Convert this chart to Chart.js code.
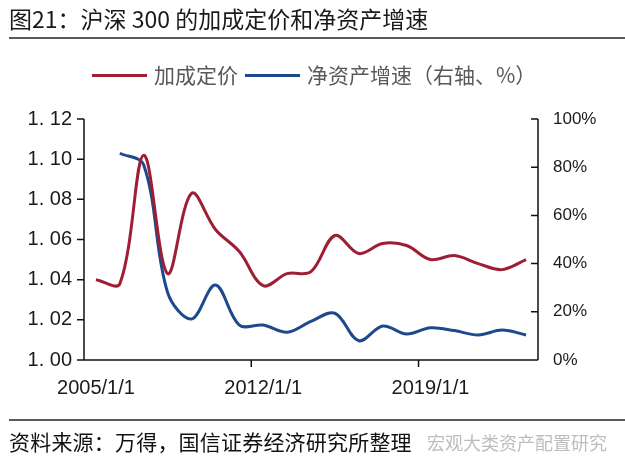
<!DOCTYPE html>
<html>
<head>
<meta charset="utf-8">
<script src="https://cdn.jsdelivr.net/npm/chart.js@4.4.1/dist/chart.umd.min.js"></script>
<style>
  body { margin: 0; background: #fff; font-family: "Noto Sans CJK SC", sans-serif; }
  #wrap { position: relative; width: 625px; height: 465px; overflow: hidden; }
  #c { position: absolute; left: 0; top: 0; }
  .abs { position: absolute; white-space: nowrap; }
  .title { left: 9px; top: 7px; font-size: 23px; line-height: 23px; color: #1a1a1a; }
  .rule { left: 9px; width: 616px; height: 2px; background: #5a5a5a; }
  .leg-line { height: 3px; }
  .leg-text { font-size: 21px; line-height: 21px; color: #595959; top: 64px; }
  .foot { left: 9px; top: 431px; font-size: 21px; line-height: 21px; color: #111; letter-spacing: 0.2px; }
  .mark { left: 427px; top: 433px; font-size: 18px; line-height: 18px; color: #bdbdbd; }
</style>
</head>
<body>
<div id="wrap">
  <canvas id="c" width="625" height="465"></canvas>
  <div class="abs title">图21：沪深 300 的加成定价和净资产增速</div>
  <div class="abs rule" style="top:37px"></div>
  <div class="abs leg-line" style="left:92px;width:55px;top:74px;background:#9e1f34"></div>
  <div class="abs leg-text" style="left:154px">加成定价</div>
  <div class="abs leg-line" style="left:245px;width:55px;top:74px;background:#1d4a8a"></div>
  <div class="abs leg-text" style="left:307px">净资产增速（右轴、%）</div>
  <div class="abs rule" style="top:419px"></div>
  <div class="abs foot">资料来源：万得，国信证券经济研究所整理</div>
  <div class="abs mark">宏观大类资产配置研究</div>
</div>
<script>
const years = ['2005/1/1','2006/1/1','2007/1/1','2008/1/1','2009/1/1','2010/1/1','2011/1/1','2012/1/1','2013/1/1','2014/1/1',
  '2015/1/1','2016/1/1','2017/1/1','2018/1/1','2019/1/1','2020/1/1','2021/1/1','2022/1/1','2023/1/1'];
const markup = [1.040, 1.038, 1.102, 1.043, 1.083, 1.065, 1.054, 1.037, 1.043, 1.044,
  1.062, 1.053, 1.058, 1.057, 1.050, 1.052, 1.048, 1.045, 1.050];
const growth = [null, 85.8, 80.9, 28.0, 17.0, 31.1, 14.5, 14.5, 11.5, 16.0,
  19.4, 8.0, 14.1, 10.8, 13.4, 12.2, 10.4, 12.4, 10.4];

const RED = '#9e1f34';
const BLUE = '#1d4a8a';

// axis lines and tick marks (left/bottom outward, right inward)
const axisPlugin = {
  id: 'axisPlugin',
  afterDraw(chart) {
    const c = chart.ctx;
    const a = chart.chartArea;
    const x = chart.scales.x, yl = chart.scales.y, yr = chart.scales.y1;
    c.save();
    c.strokeStyle = '#111';
    c.lineWidth = 1.5;
    c.beginPath();
    c.moveTo(a.left, a.top); c.lineTo(a.left, a.bottom);
    c.moveTo(a.right, a.top); c.lineTo(a.right, a.bottom);
    c.moveTo(a.left, a.bottom); c.lineTo(a.right, a.bottom);
    yl.ticks.forEach(t => {
      const p = yl.getPixelForValue(t.value);
      c.moveTo(a.left - 7, p); c.lineTo(a.left, p);
    });
    yr.ticks.forEach(t => {
      const p = yr.getPixelForValue(t.value);
      c.moveTo(a.right - 7, p); c.lineTo(a.right, p);
    });
    const half = (x.getPixelForValue(1) - x.getPixelForValue(0)) / 2;
    for (let i = 7; i < years.length; i += 7) {
      const p = x.getPixelForValue(i) - half;
      c.moveTo(p, a.bottom); c.lineTo(p, a.bottom + 7);
    }
    c.stroke();
    c.restore();
  }
};

new Chart(document.getElementById('c'), {
  type: 'line',
  data: {
    labels: years,
    datasets: [
      { label: '加成定价', data: markup, yAxisID: 'y', borderColor: RED, backgroundColor: RED,
        borderWidth: 3, pointRadius: 0, tension: 0.35 },
      { label: '净资产增速（右轴、%）', data: growth, yAxisID: 'y1', borderColor: BLUE, backgroundColor: BLUE,
        borderWidth: 3, pointRadius: 0, tension: 0.35 }
    ]
  },
  options: {
    responsive: false,
    animation: false,
    layout: { padding: { top: 119, left: 0, right: 0, bottom: 0 } },
    plugins: { legend: { display: false }, tooltip: { enabled: false } },
    scales: {
      x: {
        offset: true,
        grid: { display: false, drawTicks: false },
        border: { display: false },
        ticks: {
          autoSkip: false, maxRotation: 0, padding: 16, color: '#1a1a1a',
          font: { family: 'Liberation Sans', size: 20 },
          callback: (v, i) => i % 7 === 0 ? years[i] : ''
        },
        afterFit: s => { s.height = 105; }
      },
      y: {
        position: 'left', min: 1.00, max: 1.12,
        grid: { display: false, drawTicks: false },
        border: { display: false },
        ticks: {
          stepSize: 0.02, padding: 12, color: '#1a1a1a',
          font: { family: 'Liberation Sans', size: 20 },
          callback: v => v.toFixed(2).replace('.', '. ')
        },
        afterFit: s => { s.width = 84; }
      },
      y1: {
        position: 'right', min: 0, max: 100,
        grid: { display: false, drawTicks: false },
        border: { display: false },
        ticks: {
          stepSize: 20, padding: 15, color: '#1a1a1a',
          font: { family: 'Liberation Sans', size: 17 },
          callback: v => v + '%'
        },
        afterFit: s => { s.width = 87; }
      }
    }
  },
  plugins: [axisPlugin]
});
</script>
</body>
</html>
